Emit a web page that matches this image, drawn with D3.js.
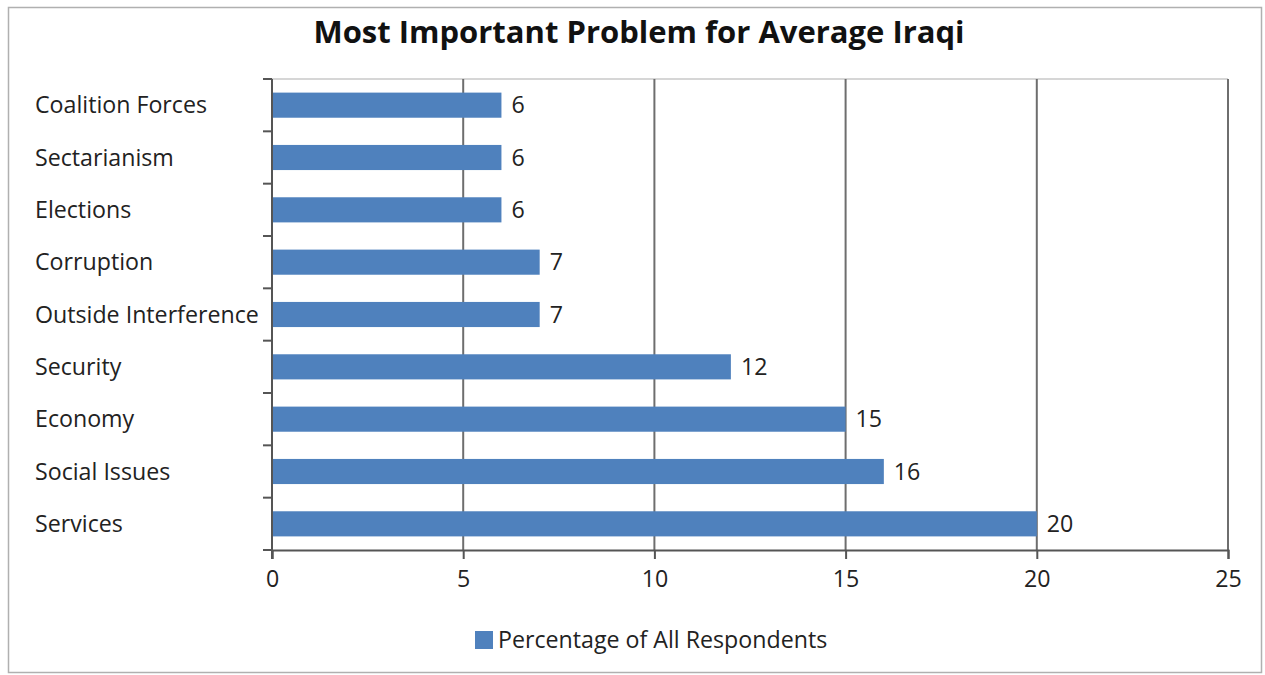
<!DOCTYPE html>
<html>
<head>
<meta charset="utf-8">
<script src="https://cdn.jsdelivr.net/npm/d3@7"></script>
<style>
  body { margin: 0; background: #fff; }
  text { font-family: "Open Sans", sans-serif; fill: #222; }
</style>
</head>
<body>
<div id="chart"></div>
<script>
const categories = ["Coalition Forces", "Sectarianism", "Elections", "Corruption", "Outside Interference", "Security", "Economy", "Social Issues", "Services"];
const values = [6, 6, 6, 7, 7, 12, 15, 16, 20];
const xTicks = [0, 5, 10, 15, 20, 25];
const title = "Most Important Problem for Average Iraqi";
const seriesName = "Percentage of All Respondents";

const fullWidth = 1265;
const fullHeight = 675;
const plot = { left: 272, right: 1228, top: 79, bottom: 550 };
const barColor = "#4F81BD";
const fontSize = 23.2;

const svg = d3.select("#chart")
  .append("svg")
  .attr("width", fullWidth)
  .attr("height", fullHeight);

// chart frame
svg.append("rect")
  .attr("x", 8.5).attr("y", 7.5)
  .attr("width", 1253).attr("height", 665)
  .attr("fill", "#fff")
  .attr("stroke", "#b0b0b0")
  .attr("stroke-width", 1.5);

svg.append("text")
  .attr("x", 639)
  .attr("y", 32)
  .attr("dy", "0.35em")
  .attr("text-anchor", "middle")
  .attr("font-size", 31)
  .attr("font-weight", "bold")
  .style("fill", "#111")
  .text(title);

const xScale = d3.scaleLinear()
  .domain([0, 25])
  .range([plot.left, plot.right]);

const yScale = d3.scaleBand()
  .domain(categories)
  .range([plot.top, plot.bottom])
  .paddingInner(0.52)
  .paddingOuter(0.26);

// top border of the plot area
svg.append("line")
  .attr("x1", plot.left).attr("x2", plot.right)
  .attr("y1", plot.top).attr("y2", plot.top)
  .attr("stroke", "#c8c8c8")
  .attr("stroke-width", 1.5);

// vertical gridlines
svg.append("g")
  .selectAll("line")
  .data(xTicks.filter(d => d > 0))
  .join("line")
  .attr("x1", d => xScale(d)).attr("x2", d => xScale(d))
  .attr("y1", plot.top).attr("y2", plot.bottom)
  .attr("stroke", "#6e6e6e")
  .attr("stroke-width", 2);

// bars
svg.append("g")
  .selectAll("rect")
  .data(values)
  .join("rect")
  .attr("x", xScale(0))
  .attr("y", (d, i) => yScale(categories[i]))
  .attr("width", d => xScale(d) - xScale(0))
  .attr("height", yScale.bandwidth())
  .attr("fill", barColor);

// data labels
svg.append("g")
  .selectAll("text")
  .data(values)
  .join("text")
  .attr("x", d => xScale(d) + 10)
  .attr("y", (d, i) => yScale(categories[i]) + yScale.bandwidth() / 2)
  .attr("dy", "0.35em")
  .attr("font-size", fontSize)
  .text(d => d);

// x axis
const xAxis = d3.axisBottom(xScale)
  .tickValues(xTicks)
  .tickSize(9)
  .tickPadding(12);

const gx = svg.append("g")
  .attr("transform", `translate(0, ${plot.bottom})`)
  .call(xAxis);
gx.select(".domain").attr("stroke", "#555").attr("stroke-width", 2);
gx.selectAll(".tick line").attr("stroke", "#555").attr("stroke-width", 2);
gx.selectAll(".tick text").attr("font-size", fontSize).attr("font-family", null).style("fill", "#222");

// y axis: ticks sit on category boundaries
const step = yScale.step();
const boundaries = d3.range(categories.length + 1).map(i => plot.top + i * step);

svg.append("line")
  .attr("x1", plot.left).attr("x2", plot.left)
  .attr("y1", plot.top).attr("y2", plot.bottom + 9)
  .attr("stroke", "#555")
  .attr("stroke-width", 2);

svg.append("g")
  .selectAll("line")
  .data(boundaries)
  .join("line")
  .attr("x1", plot.left - 9).attr("x2", plot.left)
  .attr("y1", d => d).attr("y2", d => d)
  .attr("stroke", "#555")
  .attr("stroke-width", 2);

svg.append("g")
  .selectAll("text")
  .data(categories)
  .join("text")
  .attr("x", 35)
  .attr("y", d => yScale(d) + yScale.bandwidth() / 2)
  .attr("dy", "0.35em")
  .attr("font-size", fontSize)
  .text(d => d);

// legend
const legend = svg.append("g").attr("transform", "translate(475, 631)");
legend.append("rect")
  .attr("width", 18).attr("height", 18)
  .attr("fill", barColor);
legend.append("text")
  .attr("x", 23)
  .attr("y", 9)
  .attr("dy", "0.35em")
  .attr("font-size", fontSize)
  .text(seriesName);
</script>
</body>
</html>
